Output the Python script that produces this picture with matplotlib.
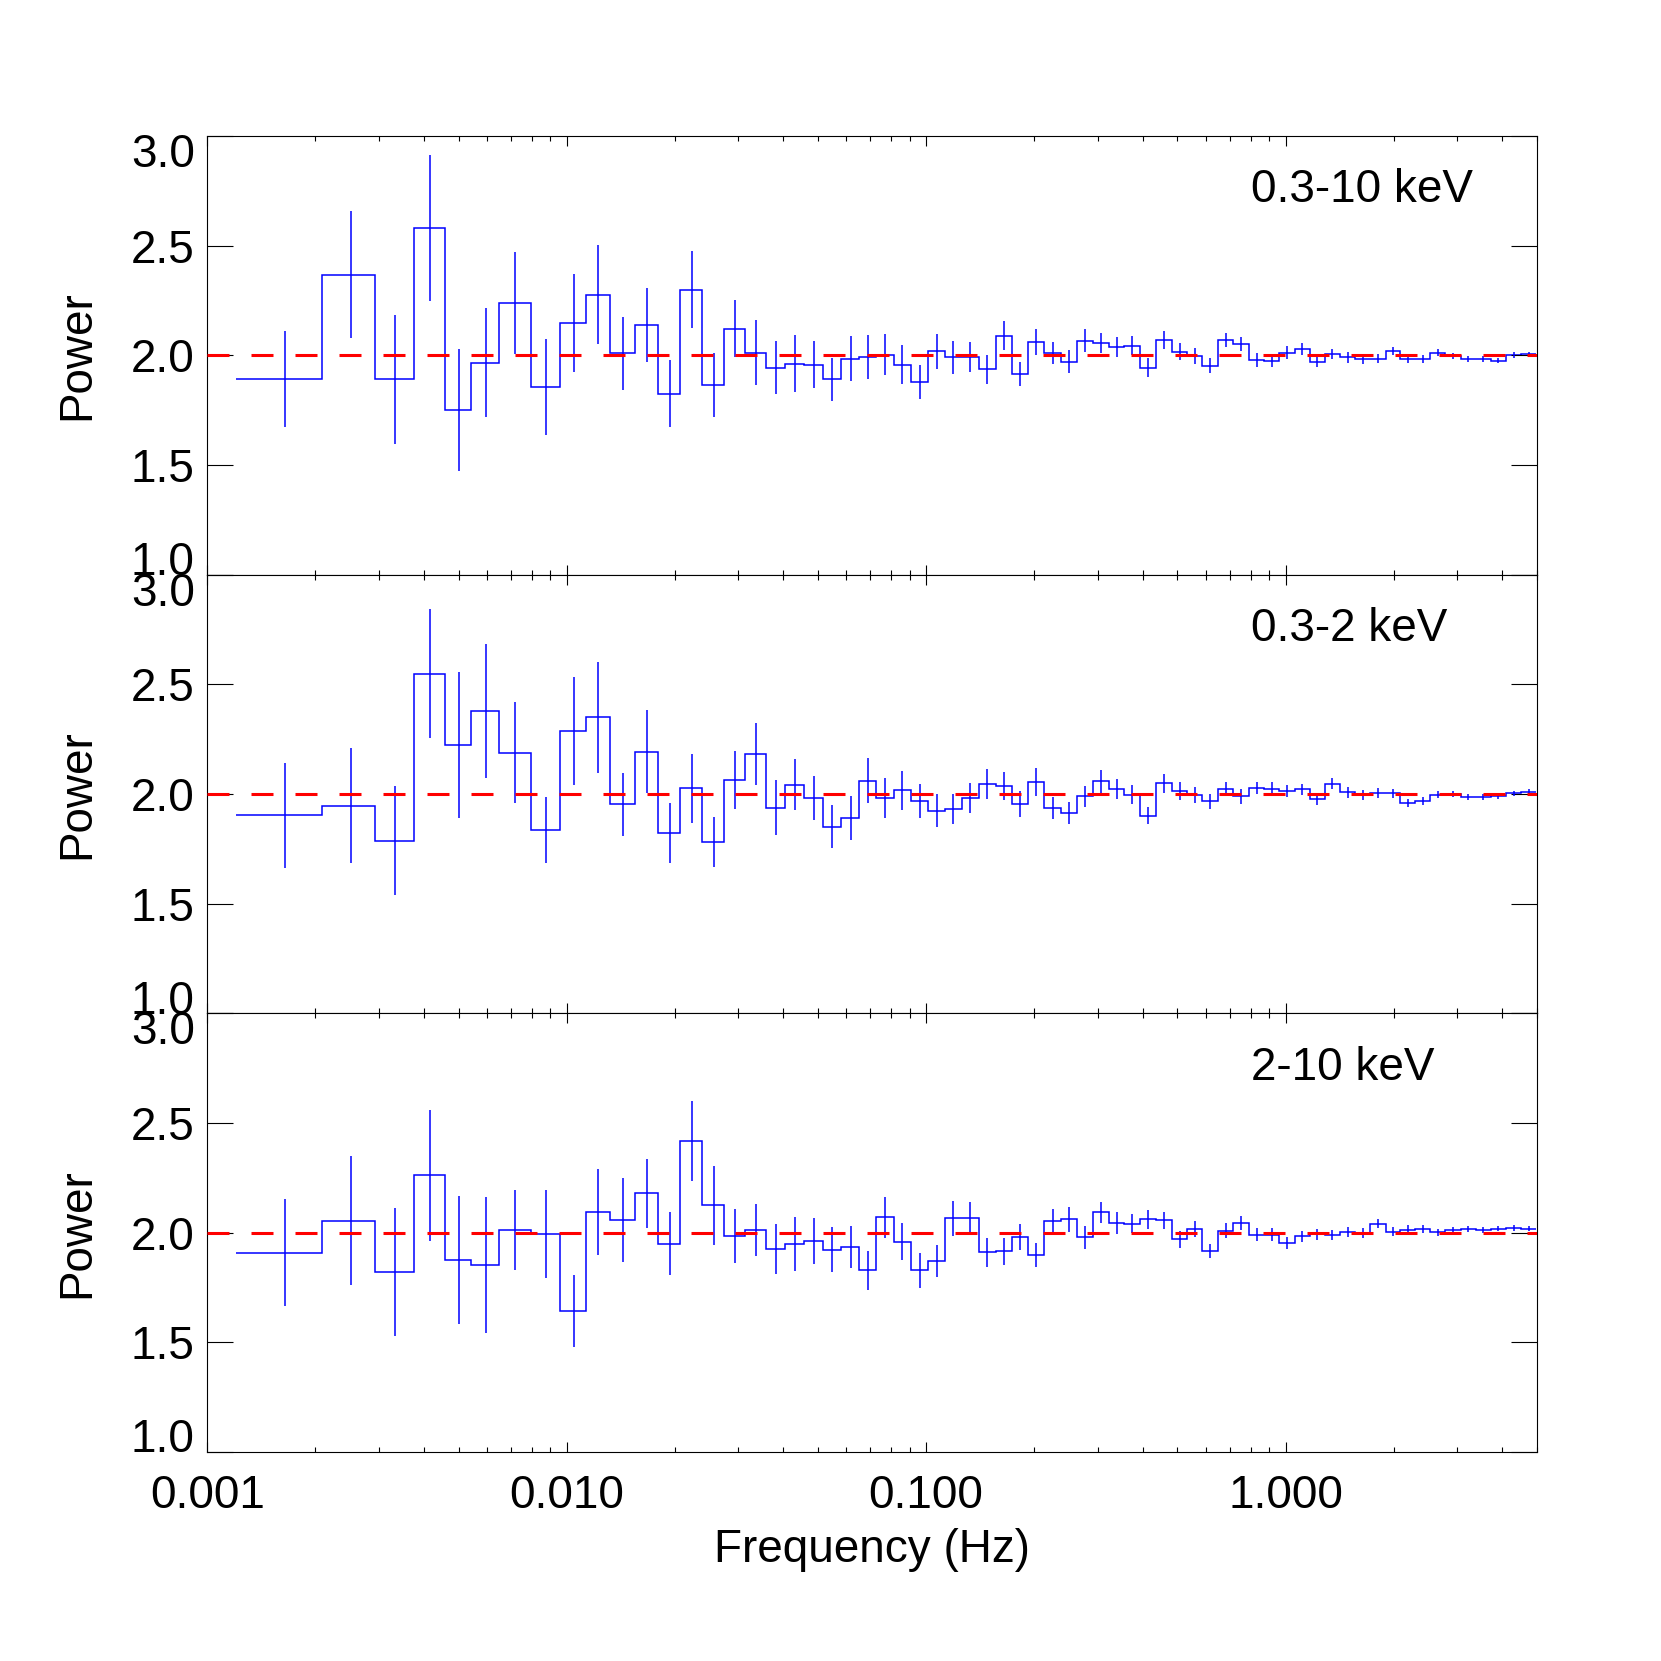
import numpy as np
import matplotlib
matplotlib.use("Agg")
import matplotlib.pyplot as plt
import matplotlib.transforms as mtransforms
from matplotlib.ticker import LogLocator, FixedLocator, FuncFormatter, NullFormatter

plt.rcParams['font.family'] = ['Liberation Sans', 'DejaVu Sans']

# Frequency bin edges (Hz), shared by the three panels
edges = [0.001202, 0.002087, 0.002919, 0.003748, 0.004593, 0.005427, 0.006465,
         0.007938, 0.009605, 0.01130, 0.01318, 0.01547, 0.01797, 0.02070,
         0.02384, 0.02745, 0.03132, 0.03578, 0.04049, 0.04585, 0.05158,
         0.05813, 0.06524, 0.07256, 0.08117, 0.09066, 0.1013, 0.1127, 0.1255,
         0.1400, 0.1561, 0.1733, 0.1924, 0.2132, 0.2373, 0.2629, 0.2907,
         0.3222, 0.3561, 0.3939, 0.4363, 0.4827, 0.5324, 0.5873, 0.6480,
         0.7165, 0.7909, 0.8710, 0.9585, 1.060, 1.167, 1.284, 1.414, 1.564,
         1.722, 1.899, 2.087, 2.298, 2.530, 2.785, 3.072, 3.383, 3.724, 4.101,
         4.515, 4.990]

# 0.3-10 keV
pow_full = [1.892, 2.368, 1.891, 2.582, 1.751, 1.967, 2.240, 1.857, 2.149, 2.277,
            2.010, 2.139, 1.825, 2.300, 1.864, 2.122, 2.012, 1.944, 1.962, 1.958,
            1.891, 1.985, 1.994, 2.003, 1.958, 1.879, 2.019, 1.991, 1.991, 1.936,
            2.090, 1.915, 2.061, 2.010, 1.971, 2.067, 2.055, 2.040, 2.044, 1.944,
            2.070, 2.017, 1.997, 1.952, 2.070, 2.051, 1.979, 1.976, 2.012, 2.028,
            1.970, 2.006, 1.991, 1.984, 1.984, 2.020, 1.984, 1.984, 2.012, 1.997,
            1.982, 1.982, 1.975, 2.002, 2.006]
err_full = [0.220, 0.290, 0.294, 0.333, 0.277, 0.248, 0.233, 0.218, 0.224, 0.226,
            0.166, 0.168, 0.153, 0.176, 0.146, 0.129, 0.148, 0.121, 0.129, 0.106,
            0.098, 0.103, 0.100, 0.094, 0.089, 0.078, 0.079, 0.075, 0.069, 0.065,
            0.066, 0.056, 0.060, 0.050, 0.053, 0.052, 0.046, 0.046, 0.043, 0.042,
            0.040, 0.038, 0.036, 0.034, 0.033, 0.032, 0.030, 0.029, 0.029, 0.027,
            0.024, 0.024, 0.024, 0.023, 0.021, 0.020, 0.019, 0.018, 0.015, 0.015,
            0.014, 0.013, 0.012, 0.012, 0.011]

# 0.3-2 keV
pow_soft = [1.904, 1.947, 1.787, 2.549, 2.222, 2.380, 2.189, 1.836, 2.286, 2.350,
            1.953, 2.193, 1.822, 2.027, 1.782, 2.065, 2.181, 1.938, 2.043, 1.983,
            1.852, 1.892, 2.061, 1.982, 2.017, 1.967, 1.924, 1.932, 1.983, 2.046,
            2.037, 1.954, 2.055, 1.936, 1.912, 1.989, 2.058, 2.023, 1.997, 1.901,
            2.049, 2.015, 1.997, 1.967, 2.023, 1.989, 2.027, 2.023, 2.012, 2.021,
            1.977, 2.047, 2.008, 1.997, 2.003, 2.003, 1.959, 1.970, 1.997, 2.000,
            1.988, 1.988, 1.990, 2.003, 2.010]
err_soft = [0.239, 0.262, 0.248, 0.293, 0.333, 0.305, 0.230, 0.149, 0.247, 0.253,
            0.145, 0.190, 0.135, 0.157, 0.115, 0.133, 0.142, 0.125, 0.117, 0.100,
            0.096, 0.100, 0.104, 0.093, 0.090, 0.078, 0.075, 0.070, 0.068, 0.069,
            0.065, 0.060, 0.065, 0.051, 0.050, 0.047, 0.052, 0.046, 0.044, 0.039,
            0.043, 0.040, 0.037, 0.034, 0.033, 0.033, 0.029, 0.031, 0.027, 0.027,
            0.026, 0.024, 0.024, 0.023, 0.023, 0.021, 0.019, 0.018, 0.016, 0.015,
            0.014, 0.013, 0.012, 0.012, 0.011]

# 2-10 keV
pow_hard = [1.909, 2.055, 1.821, 2.261, 1.874, 1.853, 2.014, 1.995, 1.643, 2.093,
            2.058, 2.179, 1.950, 2.418, 2.125, 1.985, 2.012, 1.925, 1.949, 1.961,
            1.923, 1.934, 1.829, 2.070, 1.959, 1.829, 1.871, 2.065, 2.068, 1.911,
            1.915, 1.979, 1.900, 2.055, 2.061, 1.979, 2.093, 2.045, 2.041, 2.061,
            2.057, 1.970, 2.018, 1.917, 2.009, 2.045, 1.991, 1.991, 1.955, 1.984,
            1.993, 1.990, 2.003, 1.999, 2.041, 2.005, 2.014, 2.018, 2.003, 2.012,
            2.018, 2.011, 2.018, 2.021, 2.018]
err_hard = [0.244, 0.294, 0.293, 0.298, 0.292, 0.311, 0.183, 0.200, 0.162, 0.196,
            0.190, 0.159, 0.145, 0.181, 0.180, 0.121, 0.120, 0.115, 0.124, 0.105,
            0.101, 0.095, 0.089, 0.095, 0.085, 0.080, 0.073, 0.078, 0.072, 0.066,
            0.061, 0.059, 0.055, 0.053, 0.057, 0.053, 0.049, 0.049, 0.043, 0.044,
            0.039, 0.039, 0.037, 0.033, 0.033, 0.032, 0.030, 0.030, 0.027, 0.025,
            0.024, 0.024, 0.021, 0.021, 0.021, 0.020, 0.020, 0.018, 0.016, 0.015,
            0.014, 0.013, 0.012, 0.012, 0.011]

bands = ["0.3-10 keV", "0.3-2 keV", "2-10 keV"]
panels = [(pow_full, err_full), (pow_soft, err_soft), (pow_hard, err_hard)]
yticks = [1.0, 1.5, 2.0, 2.5, 3.0]

edges = np.array(edges)
centers = 0.5 * (edges[:-1] + edges[1:])

fig = plt.figure(figsize=(16.61, 16.61), dpi=100)
left, width, height = 0.1248, 0.8004, 0.2641
top = 0.9181
fs = 33

# end labels are pushed inside the panel (IDL style)
shift_up = mtransforms.ScaledTranslation(0, 12 / 72, fig.dpi_scale_trans)
shift_down = mtransforms.ScaledTranslation(0, -10 / 72, fig.dpi_scale_trans)

for i, (band, (pw, er)) in enumerate(zip(bands, panels)):
    ax = fig.add_axes([left, top - (i + 1) * height, width, height])
    ax.stairs(pw, edges, baseline=None, color='blue', lw=1.1)
    ax.errorbar(centers, pw, yerr=er, fmt='none', ecolor='blue', elinewidth=1.1, capsize=0)
    ax.axhline(2.0, color='red', lw=2.2, ls=(0, (7.2, 7.2)), zorder=5)

    ax.set_xscale('log')
    ax.set_xlim(0.001, 5.0)
    ax.set_ylim(1.0, 3.0)
    ax.yaxis.set_major_locator(FixedLocator(yticks))
    ax.yaxis.set_major_formatter(FuncFormatter(lambda v, p: "%.1f" % v))
    ax.xaxis.set_major_locator(LogLocator(base=10, numticks=10))
    ax.xaxis.set_minor_locator(LogLocator(base=10, subs=np.arange(2, 10), numticks=20))
    ax.xaxis.set_minor_formatter(NullFormatter())
    if i == 2:
        ax.xaxis.set_major_formatter(FuncFormatter(lambda v, p: "%.3f" % v))
    else:
        ax.xaxis.set_major_formatter(NullFormatter())

    ax.tick_params(axis='x', which='major', direction='in', top=True, bottom=True,
                   length=7.5, width=0.8, labelsize=fs, pad=16)
    ax.tick_params(axis='x', which='minor', direction='in', top=True, bottom=True,
                   length=3.5, width=0.8)
    ax.tick_params(axis='y', which='major', direction='in', left=True, right=True,
                   length=19, width=0.8, labelsize=fs, pad=9)
    for sp in ax.spines.values():
        sp.set_linewidth(0.8)

    yt = ax.yaxis.get_major_ticks()
    yt[0].label1.set_transform(yt[0].label1.get_transform() + shift_up)
    yt[-1].label1.set_transform(yt[-1].label1.get_transform() + shift_down)

    ax.text(-0.098, 0.5, "Power", rotation=90, transform=ax.transAxes,
            ha='center', va='center', fontsize=fs)
    ax.text(0.785, 0.849, band, transform=ax.transAxes, ha='left', va='baseline',
            fontsize=fs)

fig.text(0.525, 0.0596, "Frequency (Hz)", ha='center', va='baseline', fontsize=fs)

fig.savefig("out.png", dpi=100)
